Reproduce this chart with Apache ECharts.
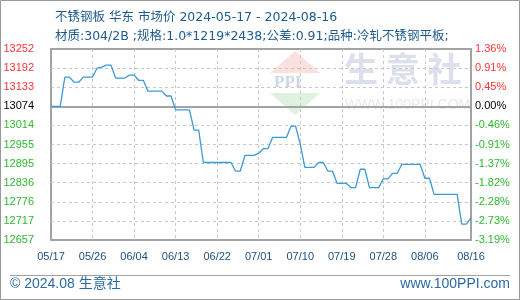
<!DOCTYPE html>
<html><head><meta charset="utf-8">
<script src="https://cdn.jsdelivr.net/npm/echarts@6/dist/echarts.min.js"></script>
<style>html,body{margin:0;padding:0;background:#fff}#c{width:520px;height:300px}</style>
</head><body><div id="c"></div>
<script>
// categories: one per day 2024-05-17 .. 2024-08-16
const startDate = '2024-05-17';
const dayCount = 92;
const dates = [];
(function(){
  const d0 = new Date(startDate + 'T00:00:00Z');
  for (let i = 0; i < dayCount; i++) {
    const d = new Date(d0.getTime() + i * 86400000);
    const m = String(d.getUTCMonth() + 1).padStart(2, '0');
    const dd = String(d.getUTCDate()).padStart(2, '0');
    dates.push(m + '/' + dd);
  }
})();

const prices = [
  13074, 13074, 13074, 13165, 13165, 13149, 13149, 13165, 13165, 13165,
  13193, 13196, 13202, 13202, 13162, 13162, 13162, 13171, 13171, 13155,
  13155, 13121, 13121, 13121, 13121, 13106, 13106, 13063, 13063, 13063,
  13063, 13000, 13000, 12899, 12899, 12899, 12899, 12899, 12899, 12899,
  12872, 12872, 12921, 12921, 12921, 12928, 12942, 12942, 12977, 12977,
  12977, 12977, 13012, 13012, 12956, 12884, 12884, 12884, 12899, 12899,
  12872, 12872, 12834, 12834, 12834, 12821, 12821, 12878, 12878, 12821,
  12821, 12821, 12848, 12848, 12865, 12865, 12893, 12893, 12893, 12893,
  12893, 12850, 12850, 12800, 12800, 12800, 12800, 12800, 12800, 12707,
  12707, 12727
];

const leftTicks = ['13252','13192','13133','13074','13014','12955','12895','12836','12776','12717','12657'];
const pctTicks = ['1.36%','0.91%','0.45%','0.00%','-0.46%','-0.91%','-1.37%','-1.82%','-2.28%','-2.73%','-3.19%'];
const xTickIdx = [0, 9, 18, 27, 36, 45, 54, 63, 72, 81, 91];
const basePrice = 13074;
const priceMin = 12657.85;
const priceMax = 13252.35;

const titleLine1 = '不锈钢板 华东 市场价 2024-05-17 - 2024-08-16';
const titleLine2 = '材质:304/2B ;规格:1.0*1219*2438;公差:0.91;品种:冷轧不锈钢平板;';
const footLeft = '© 2024.08 生意社';
const footRight = 'www.100PPI.com';

const RED = '#ff3333', GREEN = '#2eb82e', BLACK = '#000000';
const BLUE_TXT = '#1d5a8e';
const FONT = 'Liberation Sans, Arial, Noto Sans CJK SC, sans-serif';
const TFONT = 'DejaVu Sans, Noto Sans CJK SC, sans-serif';

const chart = echarts.init(document.getElementById('c'), null, {renderer: 'canvas'});
const tickShown = (i) => xTickIdx.indexOf(i) >= 0;
const colorFor = (v) => v > 0 ? RED : (v < 0 ? GREEN : BLACK);

chart.setOption({
  animation: false,
  backgroundColor: '#fff',
  title: [
    {text: titleLine1, left: 50, top: 6, textStyle: {fontSize: 12.5, fontWeight: 'normal', color: BLUE_TXT, fontFamily: TFONT}},
    {text: titleLine2, left: 50, top: 25, textStyle: {fontSize: 12.5, fontWeight: 'normal', color: BLUE_TXT, fontFamily: TFONT}}
  ],
  grid: {left: 51, right: 49, top: 49, bottom: 60, show: true, borderColor: '#a3a3a3', borderWidth: 2, backgroundColor: 'transparent'},
  xAxis: {
    type: 'category', data: dates, boundaryGap: false,
    axisLine: {show: false}, axisTick: {show: false},
    axisLabel: {interval: (i) => tickShown(i), color: '#1f4f80', fontSize: 11, fontFamily: FONT, margin: 11},
    splitLine: {show: true, interval: (i) => tickShown(i), showMinLine: false, showMaxLine: false,
      lineStyle: {color: '#c8c8c8', type: [3, 3], width: 1}}
  },
  yAxis: [
    {type: 'value', position: 'left', min: -7, max: 3, interval: 1,
      axisLine: {show: false}, axisTick: {show: false},
      axisLabel: {formatter: (v) => leftTicks[3 - v], color: (v) => colorFor(v), fontSize: 11, fontFamily: FONT, margin: 17},
      splitLine: {show: true, showMinLine: false, showMaxLine: false, lineStyle: {color: '#c8c8c8', type: [3, 3], width: 1}}},
    {type: 'value', position: 'right', min: -7, max: 3, interval: 1,
      axisLine: {show: false}, axisTick: {show: false},
      axisLabel: {formatter: (v) => pctTicks[3 - v], color: (v) => colorFor(v), fontSize: 11, fontFamily: FONT, margin: 4},
      splitLine: {show: false}},
    {type: 'value', show: false, min: priceMin, max: priceMax, splitLine: {show: false}}
  ],
  graphic: [
    {type: 'rect', z: 100, shape: {x: 0.5, y: 0.5, width: 519, height: 299}, style: {fill: 'none', stroke: '#999', lineWidth: 1}},
    {type: 'line', z: 100, shape: {x1: 10, y1: 275.5, x2: 510, y2: 275.5}, style: {stroke: '#a0a0a0', lineWidth: 1}},
    {type: 'text', z: 100, left: 10, top: 277, style: {text: footLeft, fill: '#2a6aa3', font: '14px ' + FONT}},
    {type: 'text', z: 100, right: 10, top: 277, style: {text: footRight, fill: '#2a6aa3', font: '14px ' + FONT}},
    // watermark
    {type: 'polygon', z: -10, shape: {points: [[270, 73], [295, 51], [320, 73]]}, style: {fill: '#fbe1dd'}},
    {type: 'text', z: -10, x: 274, y: 74, style: {text: 'PPI', fill: '#cdd5e6', font: 'bold 17px Liberation Serif, serif'}},
    {type: 'polygon', z: -10, shape: {points: [[270, 93], [320, 93], [295, 115]]}, style: {fill: '#def2df'}},
    {type: 'text', z: -10, x: 344, y: 52, style: {text: '生 意 社', fill: '#dbe0ec', font: 'bold 34px Noto Sans CJK SC, sans-serif'}},
    {type: 'text', z: -10, x: 345, y: 98, style: {text: 'WWW.100PPI.COM', fill: '#e9e9e9', font: '14px ' + FONT}}
  ],
  series: [{
    type: 'line', yAxisIndex: 2, data: prices, showSymbol: false, symbol: 'none',
    lineStyle: {color: '#3b9ad8', width: 1.3}, z: 3,
    markLine: {silent: true, symbol: 'none', label: {show: false},
      lineStyle: {color: '#a3a3a3', type: 'solid', width: 2},
      data: [{yAxis: basePrice}], z: 2}
  }]
});
</script>
</body></html>
